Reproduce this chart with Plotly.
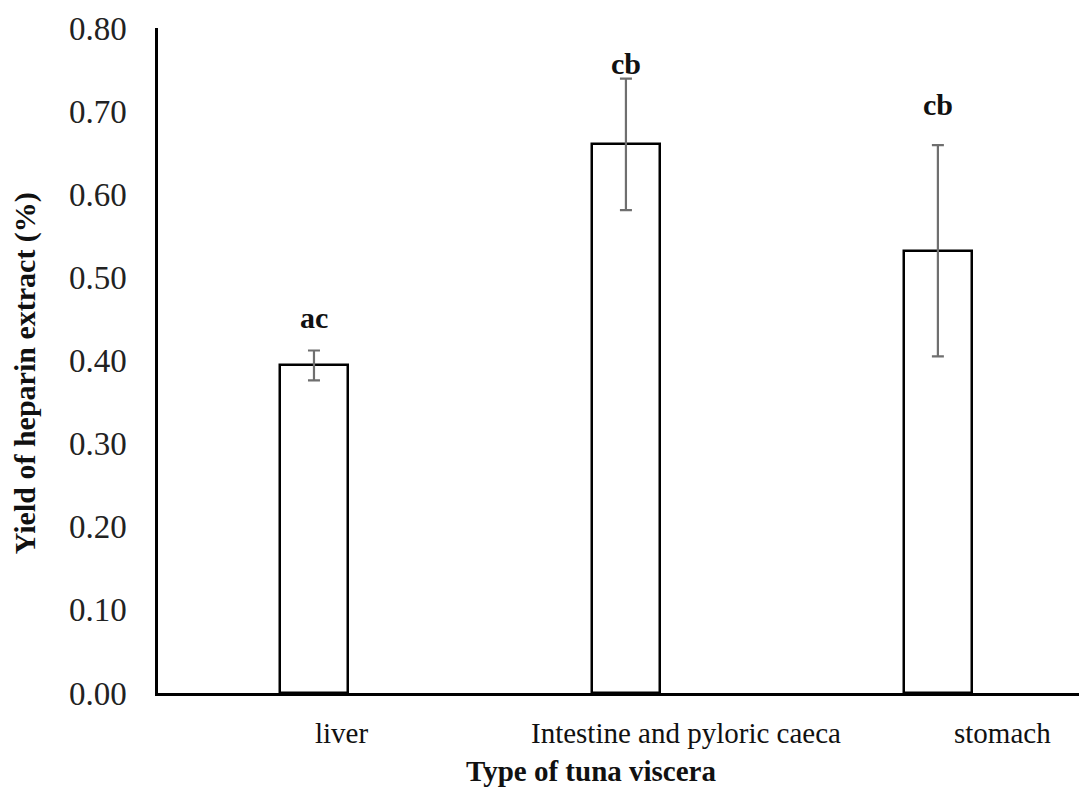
import plotly.graph_objects as go

categories = ["liver", "Intestine and pyloric caeca", "stomach"]
yield_values = [0.394, 0.660, 0.532]
error_values = [0.018, 0.079, 0.127]
sig_letters = ["ac", "cb", "cb"]
letter_y = [0.452, 0.757, 0.708]
y_ticks = [0.0, 0.1, 0.2, 0.3, 0.4, 0.5, 0.6, 0.7, 0.8]

FONT = "Liberation Serif"

fig = go.Figure()
fig.add_trace(go.Bar(
    x=categories, y=yield_values,
    width=0.218,
    marker=dict(color="white", line=dict(color="black", width=2.5)),
    error_y=dict(type="data", array=error_values, visible=True,
                 color="#6f6f6f", thickness=2.2, width=6),
    showlegend=False,
))

for c, t, ly in zip(categories, sig_letters, letter_y):
    fig.add_annotation(x=c, y=ly, xref="x", yref="y", text="<b>%s</b>" % t,
                       showarrow=False, yanchor="middle",
                       font=dict(family=FONT, size=30, color="#111"))

label_shift = [28, 60, 65]
for c, s in zip(categories, label_shift):
    fig.add_annotation(x=c, y=0, xref="x", yref="paper", text=c, showarrow=False,
                       xshift=s, yshift=-40, yanchor="middle",
                       font=dict(family=FONT, size=29, color="#111"))

fig.add_annotation(x=0.466, y=-0.117, xref="paper", yref="paper",
                   text="<b>Type of tuna viscera</b>", showarrow=False,
                   xanchor="center", yanchor="middle",
                   font=dict(family=FONT, size=29, color="#111"))
fig.add_annotation(x=-0.143, y=0.481, xref="paper", yref="paper",
                   text="<b>Yield of heparin extract (%)</b>", showarrow=False,
                   textangle=-90, xanchor="center", yanchor="middle",
                   font=dict(family=FONT, size=30, color="#111"))

fig.update_layout(
    width=1079, height=779,
    margin=dict(l=150, r=0, t=20, b=94),
    plot_bgcolor="white", paper_bgcolor="white",
    font=dict(family=FONT, color="#111"),
    bargap=0,
)
fig.update_xaxes(
    range=[-0.5, 2.478], showticklabels=False, ticks="",
    showline=True, linecolor="black", linewidth=2.5, showgrid=False, zeroline=False,
)
fig.update_yaxes(
    range=[0, 0.8], tickvals=y_ticks, tickformat=".2f",
    tickfont=dict(family=FONT, size=33, color="#222"),
    ticklabelstandoff=22,
    showline=True, linecolor="black", linewidth=2.5, showgrid=False, zeroline=False, ticks="",
)

fig.write_html("out.html")
